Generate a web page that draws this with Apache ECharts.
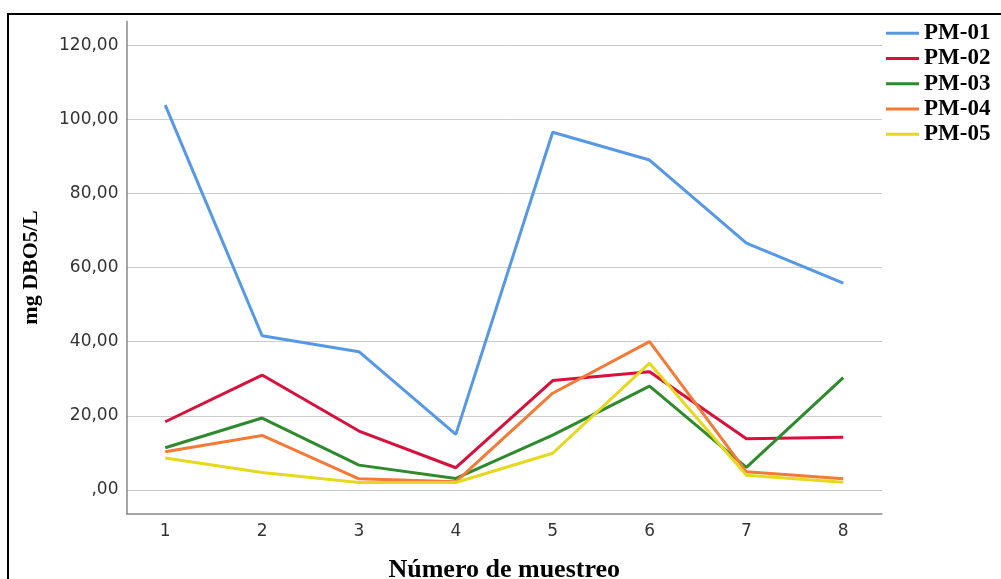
<!DOCTYPE html>
<html>
<head>
<meta charset="utf-8">
<script src="https://cdn.jsdelivr.net/npm/echarts@6/dist/echarts.min.js"></script>
<style>
	html, body { margin: 0; padding: 0; background: #fff; }
	#chart { width: 1001px; height: 579px; }
</style>
</head>
<body>
<div id="chart"></div>
<script>
// Número de muestreo
var samples = [1, 2, 3, 4, 5, 6, 7, 8];
var yTicks = [0, 20, 40, 60, 80, 100, 120];
var seriesNames = ['PM-01', 'PM-02', 'PM-03', 'PM-04', 'PM-05'];
// mg DBO5/L por punto
var pm01 = [103.8, 41.6, 37.3, 15.0, 96.5, 89.0, 66.6, 55.8];
var pm02 = [18.4, 31.0, 15.9, 6.0, 29.5, 31.9, 13.8, 14.2];
var pm03 = [11.4, 19.4, 6.7, 3.1, 14.8, 28.0, 6.1, 30.3];
var pm04 = [10.3, 14.7, 3.0, 2.2, 26.1, 40.0, 4.9, 3.0];
var pm05 = [8.6, 4.7, 2.0, 2.0, 9.9, 34.2, 4.0, 2.1];
var colors = ['#5599e6', '#d7103c', '#2d8a2d', '#f47a35', '#e6d81c'];

var pairs = function(values) {
	return values.map(function(v, i) { return [samples[i], v]; });
};

var makeSeries = function(name, values, color) {
	return {
		name: name,
		type: 'line',
		data: pairs(values),
		symbol: 'none',
		lineStyle: { color: color, width: 3 },
		itemStyle: { color: color }
	};
};

var myChart = echarts.init(document.getElementById('chart'));
var option = {
	animation: false,
	backgroundColor: '#fff',
	graphic: [
		{
			type: 'rect',
			z: -10,
			shape: { x: 8, y: 14, width: 1200, height: 800 },
			style: { fill: 'none', stroke: '#000', lineWidth: 2 }
		}
	],
	grid: {
		left: 126.5,
		right: 119,
		top: 21.4,
		bottom: 65.3,
		outerBoundsMode: 'none',
		containLabel: false
	},
	legend: {
		orient: 'vertical',
		left: 886,
		top: 20.5,
		padding: 0,
		itemGap: 0,
		itemWidth: 33,
		itemHeight: 3,
		icon: 'rect',
		data: seriesNames,
		textStyle: {
			fontFamily: 'Liberation Serif',
			fontWeight: 'bold',
			fontSize: 23,
			lineHeight: 25.3,
			color: '#000'
		}
	},
	xAxis: {
		type: 'value',
		min: 0.6,
		max: 8.4,
		name: 'Número de muestreo',
		nameLocation: 'middle',
		nameGap: 44,
		nameTextStyle: {
			fontFamily: 'Liberation Serif',
			fontWeight: 'bold',
			fontSize: 26,
			color: '#000'
		},
		axisLine: { show: true, onZero: false, lineStyle: { color: '#888', width: 1.5 } },
		axisTick: { show: false, customValues: samples },
		axisLabel: {
			customValues: samples,
			fontFamily: 'DejaVu Sans',
			fontSize: 17,
			color: '#333',
			margin: 9
		},
		splitLine: { show: false }
	},
	yAxis: {
		type: 'value',
		min: -6.4,
		max: 126.4,
		name: 'mg DBO5/L',
		nameLocation: 'middle',
		nameGap: 84,
		nameTextStyle: {
			fontFamily: 'Liberation Serif',
			fontWeight: 'bold',
			fontSize: 22,
			color: '#000'
		},
		axisLine: { show: true, onZero: false, lineStyle: { color: '#888', width: 1.5 } },
		axisTick: { show: false, customValues: yTicks },
		axisLabel: {
			customValues: yTicks,
			fontFamily: 'DejaVu Sans',
			fontSize: 17,
			color: '#333',
			margin: 8,
			formatter: function(v) { return v === 0 ? ',00' : v + ',00'; }
		},
		splitLine: { show: true, lineStyle: { color: '#cccccc', width: 1 } }
	},
	series: [
		makeSeries(seriesNames[0], pm01, colors[0]),
		makeSeries(seriesNames[1], pm02, colors[1]),
		makeSeries(seriesNames[2], pm03, colors[2]),
		makeSeries(seriesNames[3], pm04, colors[3]),
		makeSeries(seriesNames[4], pm05, colors[4])
	]
};
myChart.setOption(option);
</script>
</body>
</html>
